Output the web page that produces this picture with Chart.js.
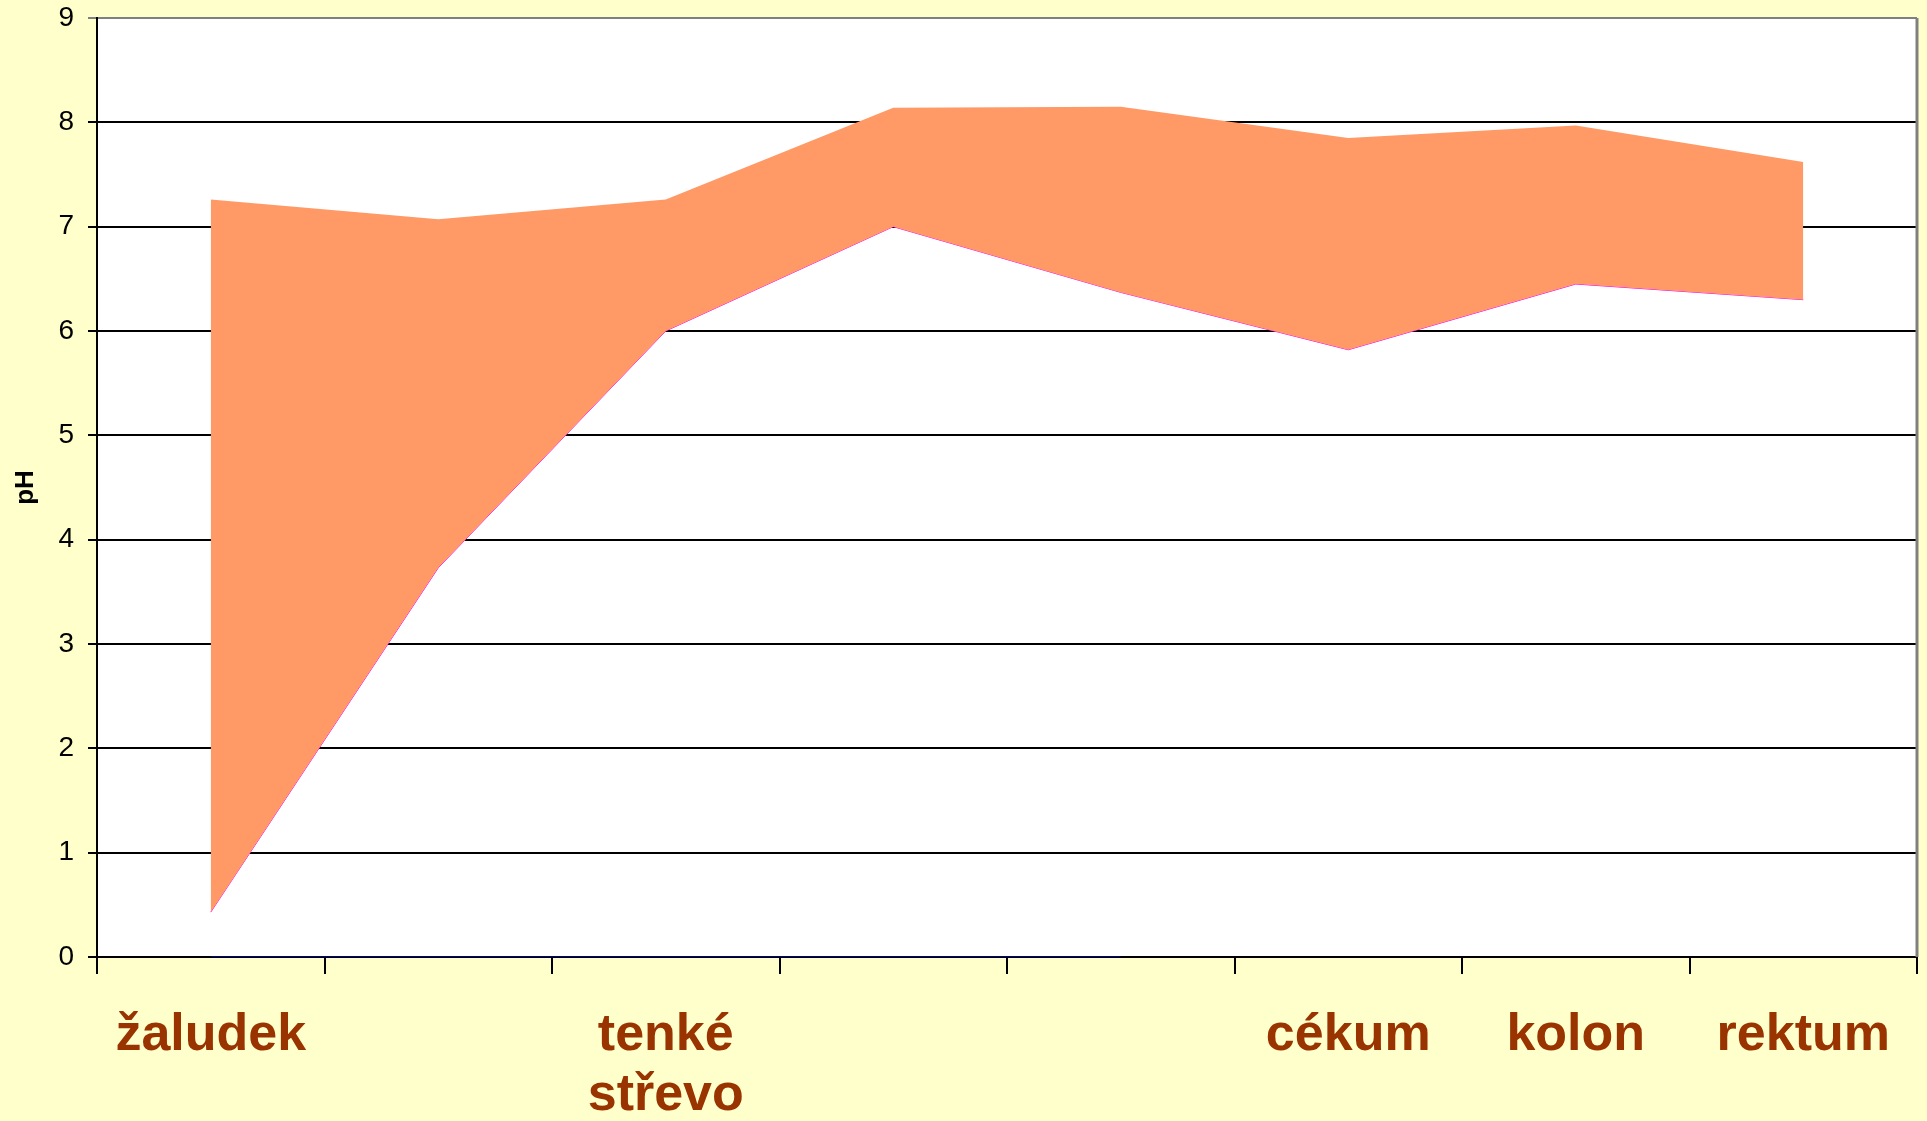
<!DOCTYPE html>
<html lang="cs">
<head>
  <meta charset="UTF-8">
  <title>pH v trávicím traktu</title>
  <script src="https://cdn.jsdelivr.net/npm/chart.js"></script>
  <style>
    html, body {
      margin: 0;
      padding: 0;
      background-color: #FFFFCC;
      overflow: hidden;
    }
    .chart-box {
      width: 1927px;
      height: 1121px;
    }
  </style>
</head>
<body>
  <div class="chart-box">
    <canvas id="phChart"></canvas>
  </div>

  <script>
    // categories (empty labels = unlabelled sections of the gut)
    const categories = ['žaludek', '', ['tenké', 'střevo'], '', '', 'cékum', 'kolon', 'rektum'];

    // pH range: lower and upper edge of the band
    const phLow  = [0.43, 3.73, 6.0, 7.0, 6.37, 5.82, 6.45, 6.3];
    const phHigh = [7.26, 7.07, 7.26, 8.14, 8.15, 7.85, 7.97, 7.62];

    // zero line series (first five sections only)
    const zeroLine = [0, 0, 0, 0, 0, null, null, null];

    const yTicks = { min: 0, max: 9, step: 1 };

    // paint page + white plot area, grey right border
    const backgroundPlugin = {
      id: 'plotBackground',
      beforeDraw(chart) {
        const { ctx, chartArea } = chart;
        ctx.save();
        ctx.fillStyle = '#FFFFCC';
        ctx.fillRect(0, 0, chart.width, chart.height);
        ctx.fillStyle = '#FFFFFF';
        ctx.fillRect(chartArea.left, chartArea.top, chartArea.right - chartArea.left, chartArea.bottom - chartArea.top);
        ctx.restore();
      },
      beforeDatasetsDraw(chart) {
        const { ctx, chartArea } = chart;
        ctx.save();
        ctx.strokeStyle = '#808080';
        ctx.lineWidth = 3;
        ctx.beginPath();
        ctx.moveTo(chartArea.right, chartArea.top);
        ctx.lineTo(chartArea.right, chartArea.bottom);
        ctx.stroke();
        ctx.restore();
      }
    };

    const ctx = document.getElementById('phChart').getContext('2d');
    const phChart = new Chart(ctx, {
      type: 'line',
      data: {
        labels: categories,
        datasets: [{
          label: 'min',
          data: phLow,
          borderColor: '#FF00FF',
          borderWidth: 1,
          pointRadius: 0,
          fill: false,
          order: 2
        }, {
          label: 'max',
          data: phHigh,
          borderWidth: 0,
          borderColor: 'rgba(0,0,0,0)',
          backgroundColor: '#FF9966',
          pointRadius: 0,
          fill: '-1',
          order: 1
        }, {
          label: 'zero',
          data: zeroLine,
          borderColor: '#000080',
          borderWidth: 2,
          pointRadius: 0,
          fill: false,
          order: 0
        }]
      },
      options: {
        responsive: true,
        maintainAspectRatio: false,
        animation: false,
        layout: {
          padding: { left: 6, top: 18, right: 10, bottom: 0 }
        },
        plugins: {
          legend: { display: false },
          tooltip: { enabled: false }
        },
        elements: {
          line: { tension: 0 }
        },
        scales: {
          x: {
            offset: true,
            grid: {
              offset: true,
              drawOnChartArea: false,
              drawTicks: true,
              tickLength: 17,
              color: '#000000',
              lineWidth: 2
            },
            border: { color: '#000000', width: 2 },
            ticks: {
              autoSkip: false,
              maxRotation: 0,
              minRotation: 0,
              padding: 32,
              color: '#993300',
              font: { family: 'Liberation Sans, Arial, sans-serif', size: 52, weight: 'bold', lineHeight: 1.15 }
            },
            afterFit(scale) {
              scale.height = 164;
            }
          },
          y: {
            min: yTicks.min,
            max: yTicks.max,
            ticks: {
              stepSize: yTicks.step,
              padding: 14,
              color: '#000000',
              font: { family: 'Liberation Sans, Arial, sans-serif', size: 28 }
            },
            grid: {
              tickLength: 9,
              lineWidth: 2,
              color: (c) => (c.tick && c.tick.value === yTicks.max) ? '#808080' : '#000000'
            },
            border: { color: '#000000', width: 2 },
            title: {
              display: true,
              text: 'pH',
              color: '#000000',
              font: { family: 'Liberation Sans, Arial, sans-serif', size: 26, weight: 'bold' }
            },
            afterFit(scale) {
              scale.width = 91;
              scale.paddingTop = 0;
              scale.paddingBottom = 0;
            }
          }
        }
      },
      plugins: [backgroundPlugin]
    });
  </script>
</body>
</html>
